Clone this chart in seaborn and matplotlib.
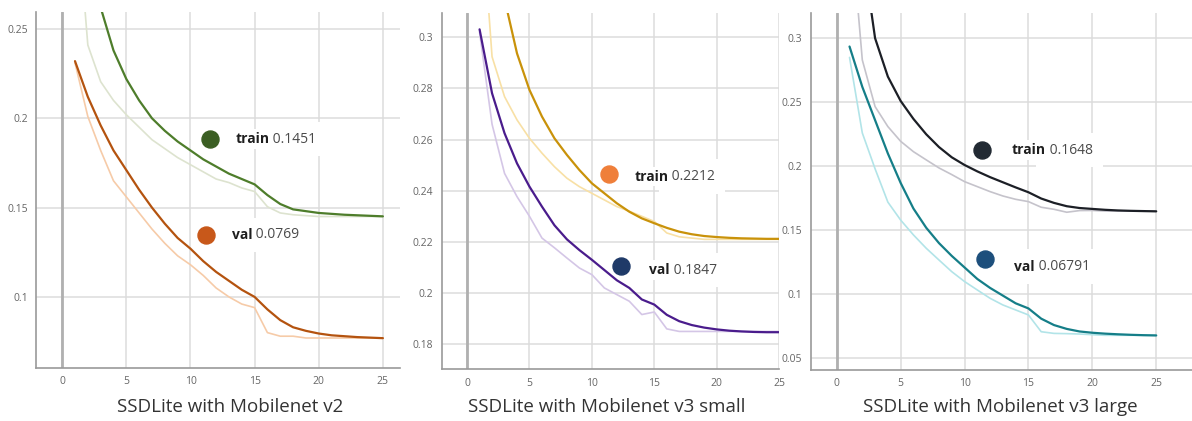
import numpy as np
import pandas as pd
import matplotlib
matplotlib.use("Agg")
import matplotlib.pyplot as plt
import seaborn as sns

epochs = list(range(1, 26))

# SSDLite with Mobilenet v2
v2_train = [0.32, 0.29, 0.262, 0.238, 0.222, 0.210, 0.200, 0.193, 0.187, 0.182, 0.177, 0.173, 0.169,
            0.166, 0.163, 0.157, 0.152, 0.149, 0.148, 0.147, 0.1465, 0.146, 0.1457, 0.1454, 0.1451]
v2_train_raw = [0.33, 0.241, 0.2205, 0.210, 0.202, 0.195, 0.188, 0.183, 0.178, 0.174, 0.170, 0.166, 0.164,
                0.161, 0.159, 0.1505, 0.147, 0.146, 0.1455, 0.145, 0.145, 0.145, 0.145, 0.145, 0.145]
v2_val = [0.232, 0.212, 0.196, 0.182, 0.171, 0.160, 0.150, 0.141, 0.133, 0.127, 0.120, 0.114, 0.109,
          0.104, 0.100, 0.093, 0.087, 0.083, 0.081, 0.0795, 0.0785, 0.078, 0.0775, 0.0772, 0.0769]
v2_val_raw = [0.231, 0.201, 0.182, 0.165, 0.156, 0.147, 0.138, 0.130, 0.123, 0.118, 0.112, 0.105, 0.100,
              0.096, 0.094, 0.080, 0.078, 0.078, 0.077, 0.077, 0.077, 0.077, 0.077, 0.077, 0.077]

# SSDLite with Mobilenet v3 small
v3s_train = [0.38, 0.345, 0.315, 0.2937, 0.2794, 0.269, 0.2605, 0.254, 0.2481, 0.2429, 0.239, 0.2351, 0.2318,
             0.2292, 0.2273, 0.2255, 0.2240, 0.2230, 0.2223, 0.2219, 0.2216, 0.2214, 0.2213, 0.2212, 0.2212]
v3s_train_raw = [0.36, 0.2924, 0.2768, 0.2677, 0.2605, 0.2547, 0.2494, 0.2449, 0.2416, 0.239, 0.2364, 0.2338, 0.232,
                 0.230, 0.228, 0.2235, 0.222, 0.2215, 0.221, 0.221, 0.221, 0.221, 0.221, 0.221, 0.221]
v3s_val = [0.3031, 0.2781, 0.2625, 0.2507, 0.2416, 0.2338, 0.2265, 0.2210, 0.2168, 0.2130, 0.2090, 0.2050, 0.2020,
           0.1975, 0.1955, 0.1915, 0.1890, 0.1875, 0.1865, 0.1858, 0.1853, 0.1850, 0.1848, 0.1847, 0.1847]
v3s_val_raw = [0.302, 0.2660, 0.2468, 0.2377, 0.2300, 0.2215, 0.2177, 0.2137, 0.2098, 0.2072, 0.2020, 0.1994, 0.1968,
               0.1916, 0.1926, 0.186, 0.185, 0.185, 0.185, 0.185, 0.185, 0.185, 0.185, 0.185, 0.185]

# SSDLite with Mobilenet v3 large
v3l_train = [0.42, 0.37, 0.300, 0.270, 0.251, 0.237, 0.225, 0.215, 0.207, 0.201, 0.196, 0.1915, 0.1875,
             0.1835, 0.1797, 0.1748, 0.1714, 0.1688, 0.1674, 0.1667, 0.166, 0.1655, 0.1652, 0.165, 0.1648]
v3l_train_raw = [0.40, 0.283, 0.2466, 0.2310, 0.2195, 0.2114, 0.205, 0.1987, 0.1935, 0.188, 0.1841, 0.1802, 0.1768,
                 0.1742, 0.1724, 0.168, 0.1664, 0.1641, 0.1654, 0.1655, 0.165, 0.165, 0.165, 0.165, 0.165]
v3l_val = [0.2935, 0.262, 0.236, 0.210, 0.187, 0.167, 0.152, 0.140, 0.130, 0.121, 0.112, 0.105, 0.099,
           0.093, 0.089, 0.081, 0.076, 0.073, 0.071, 0.0700, 0.0693, 0.0688, 0.0684, 0.0681, 0.0679]
v3l_val_raw = [0.285, 0.226, 0.198, 0.172, 0.158, 0.1464, 0.136, 0.1268, 0.1177, 0.110, 0.1034, 0.0969, 0.0917,
               0.0878, 0.0839, 0.0708, 0.0695, 0.0693, 0.069, 0.0685, 0.068, 0.068, 0.068, 0.068, 0.068]

titles = ["SSDLite with Mobilenet v2", "SSDLite with Mobilenet v3 small", "SSDLite with Mobilenet v3 large"]
final_train = ["0.1451", "0.2212", "0.1648"]
final_val = ["0.0769", "0.1847", "0.06791"]

panels = [
    dict(train=v2_train, train_raw=v2_train_raw, val=v2_val, val_raw=v2_val_raw,
         c_train="#4e7d2b", c_train_raw="#dde3cf", c_val="#b4530f", c_val_raw="#f6cba8",
         dot_train="#3b5e23", dot_val="#c8581a",
         xlim=(-2.04, 26.3), ylim=(0.0602, 0.2595), yticks=[0.1, 0.15, 0.2, 0.25],
         ylabels=["0.1", "0.15", "0.2", "0.25"],
         tdot=(11.5, 0.1884), ttext=(13.5, 0.1884), vdot=(11.2, 0.1347), vtext=(13.2, 0.1347),
         pos=[0.0302, 0.1259, 0.305, 0.8456], title_x=0.193),
    dict(train=v3s_train, train_raw=v3s_train_raw, val=v3s_val, val_raw=v3s_val_raw,
         c_train="#c9920a", c_train_raw="#f8e0a5", c_val="#4a1c8c", c_val_raw="#d4c6e6",
         dot_train="#ef7f3a", dot_val="#1f3a68",
         xlim=(-2.03, 24.4), ylim=(0.1702, 0.3096), yticks=[0.18, 0.2, 0.22, 0.24, 0.26, 0.28, 0.3],
         ylabels=["0.18", "0.2", "0.22", "0.24", "0.26", "0.28", "0.3"],
         tdot=(11.4, 0.2466), ttext=(13.4, 0.2455), vdot=(12.3, 0.2107), vtext=(14.6, 0.2090),
         pos=[0.3706, 0.1228, 0.283, 0.847], title_x=0.5087),
    dict(train=v3l_train, train_raw=v3l_train_raw, val=v3l_val, val_raw=v3l_val_raw,
         c_train="#1c1f26", c_train_raw="#c5c3cb", c_val="#157e88", c_val_raw="#b2e4e8",
         dot_train="#222a33", dot_val="#1d4f7c",
         xlim=(-2.04, 27.8), ylim=(0.0409, 0.32), yticks=[0.05, 0.1, 0.15, 0.2, 0.25, 0.3],
         ylabels=["0.05", "0.1", "0.15", "0.2", "0.25", "0.3"],
         tdot=(11.4, 0.2127), ttext=(13.7, 0.2127), vdot=(11.6, 0.1276), vtext=(13.9, 0.1216),
         pos=[0.6801, 0.1211, 0.3199, 0.849], title_x=0.8392),
]

sns.set_style("white")
plt.rcParams['font.family'] = ['Open Sans', 'DejaVu Sans']

fig = plt.figure(figsize=(11.92, 4.21), dpi=100)


def label(ax, x, y, name, value):
    # white boxes behind the label hide the gridlines, like the reference
    t = ax.text(x, y, name, fontsize=10, fontweight="bold", va="center", ha="left",
                color="#1e1e1e", zorder=5,
                bbox=dict(facecolor="white", edgecolor="none", pad=2))
    ax.annotate(" " + value, xycoords=t, xy=(1, 0.5), va="center", ha="left",
                fontsize=10, color="#4a4a4a", zorder=4,
                bbox=dict(facecolor="white", edgecolor="none", pad=7))


for i, p in enumerate(panels):
    ax = fig.add_axes(p["pos"])
    sns.lineplot(x=epochs, y=p["train_raw"], ax=ax, color=p["c_train_raw"], lw=1.2)
    sns.lineplot(x=epochs, y=p["val_raw"], ax=ax, color=p["c_val_raw"], lw=1.2)
    sns.lineplot(x=epochs, y=p["train"], ax=ax, color=p["c_train"], lw=1.6)
    sns.lineplot(x=epochs, y=p["val"], ax=ax, color=p["c_val"], lw=1.6)

    ax.set_xlim(*p["xlim"])
    ax.set_ylim(*p["ylim"])
    ax.set_xticks([0, 5, 10, 15, 20, 25])
    ax.set_yticks(p["yticks"])
    ax.set_yticklabels(p["ylabels"])
    ax.tick_params(axis="both", labelsize=7.5, colors="#666666", length=0, pad=6)
    ax.grid(True, color="#dcdcdc", lw=1.1)
    ax.set_axisbelow(True)
    ax.axvline(0, color="#b0b0b0", lw=2, zorder=1)
    for s in ["top", "right"]:
        ax.spines[s].set_visible(False)
    for s in ["left", "bottom"]:
        ax.spines[s].set_color("#9a9a9a")
        ax.spines[s].set_linewidth(1.2)

    ax.scatter([p["tdot"][0]], [p["tdot"][1]], s=150, color=p["dot_train"], zorder=6)
    ax.scatter([p["vdot"][0]], [p["vdot"][1]], s=150, color=p["dot_val"], zorder=6)
    label(ax, p["ttext"][0], p["ttext"][1], "train", final_train[i])
    label(ax, p["vtext"][0], p["vtext"][1], "val", final_val[i])

    fig.text(p["title_x"], 0.033, titles[i], ha="center", va="center", fontsize=13.5, color="#333333")

fig.savefig("out.png", dpi=100)
